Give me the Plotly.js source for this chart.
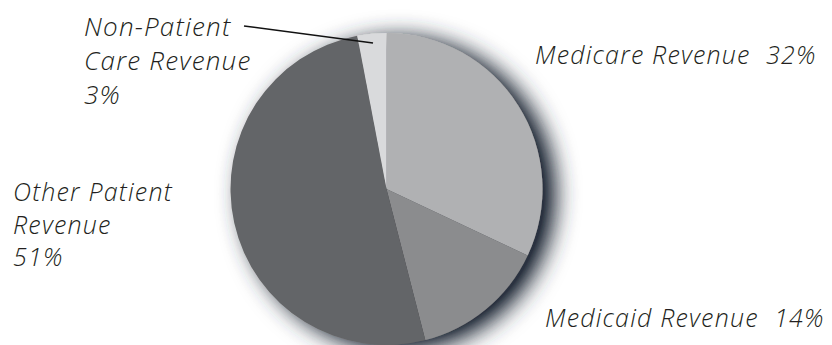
<!DOCTYPE html>
<html>
<head>
<meta charset="utf-8">
<script src="https://cdn.plot.ly/plotly-3.0.1.min.js"></script>
<style>
  html, body { margin: 0; padding: 0; background: #fff; }
  #chart { width: 832px; height: 345px; }
  .annotation-text { letter-spacing: 1.2px; }
</style>
</head>
<body>
<div id="chart"></div>
<script>
// ---- data ----
const categories = ["Medicare Revenue", "Medicaid Revenue", "Other Patient Revenue", "Non-Patient Care Revenue"];
const values = [32, 14, 51, 3];
const sliceColors = ["#b0b1b3", "#8b8c8e", "#646567", "#d9dadc"];
const labelTexts = ["Medicare Revenue\u00a0\u00a032%", "Medicaid Revenue\u00a0\u00a014%", "Other Patient<br>Revenue<br>51%", "Non-Patient<br>Care Revenue<br>3%"];

const W = 832, H = 345;
const px = x => x / W;
const py = y => 1 - y / H;

const labelFont = { family: "Open Sans, sans-serif", size: 25, color: "#231f20", style: "italic", weight: 300 };
const bigBlock = { family: "Open Sans, sans-serif", size: 26, color: "#231f20", style: "italic", weight: 300 };

const labelPos = [
  { x: 533, y: 35, font: labelFont },
  { x: 543, y: 298, font: labelFont },
  { x: 11, y: 172, font: labelFont },
  { x: 82, y: 6, font: bigBlock }
];

const annotations = labelTexts.map((t, i) => ({
  text: t,
  xref: "paper", yref: "paper",
  x: px(labelPos[i].x), y: py(labelPos[i].y),
  xanchor: "left", yanchor: "top",
  align: "left",
  showarrow: false,
  font: labelPos[i].font
}));

const trace = {
  type: "pie",
  labels: categories,
  values: values,
  sort: false,
  direction: "clockwise",
  rotation: 0,
  textinfo: "none",
  hoverinfo: "label+percent",
  marker: { colors: sliceColors, line: { width: 0 } },
  domain: { x: [px(230), px(543)], y: [0, py(33)] }
};

const layout = {
  width: W, height: H,
  margin: { l: 0, r: 0, t: 0, b: 0 },
  showlegend: false,
  paper_bgcolor: "#ffffff",
  plot_bgcolor: "#ffffff",
  annotations: annotations,
  shapes: [{
    type: "line", xref: "paper", yref: "paper",
    x0: px(244), y0: py(26), x1: px(373), y1: py(43),
    line: { color: "#111", width: 1.5 }
  }]
};

Plotly.newPlot("chart", [trace], layout, { displayModeBar: false, staticPlot: true }).then(gd => {
  const svg = gd.querySelector("svg.main-svg");
  const ns = "http://www.w3.org/2000/svg";
  let defs = svg.querySelector("defs");
  if (!defs) { defs = document.createElementNS(ns, "defs"); svg.insertBefore(defs, svg.firstChild); }
  const f = document.createElementNS(ns, "filter");
  f.setAttribute("id", "pieShadow");
  f.setAttribute("filterUnits", "userSpaceOnUse");
  f.setAttribute("x", "0"); f.setAttribute("y", "0");
  f.setAttribute("width", String(W)); f.setAttribute("height", String(H));
  f.innerHTML =
    '<feGaussianBlur in="SourceAlpha" stdDeviation="12" result="blur"/>' +
    '<feOffset in="blur" dx="12" dy="5" result="off"/>' +
    '<feComponentTransfer in="off" result="offA"><feFuncA type="linear" slope="1.25"/></feComponentTransfer>' +
    '<feFlood flood-color="#2a3340" result="col"/>' +
    '<feComposite in="col" in2="offA" operator="in" result="shadow"/>' +
    '<feMerge><feMergeNode in="shadow"/><feMergeNode in="SourceGraphic"/></feMerge>';
  defs.appendChild(f);
  gd.querySelectorAll(".pielayer .trace").forEach(g => g.setAttribute("filter", "url(#pieShadow)"));
});
</script>
</body>
</html>
